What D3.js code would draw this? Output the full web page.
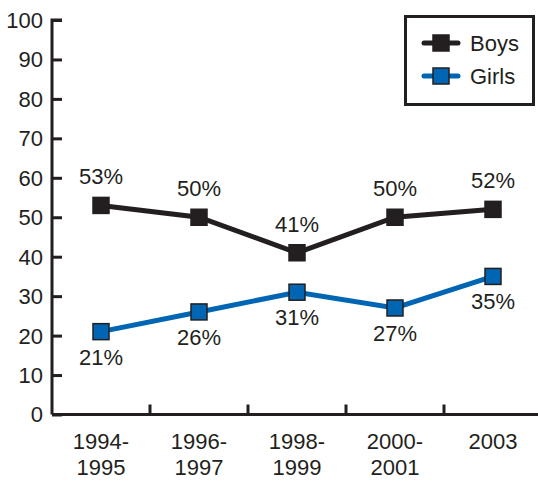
<!DOCTYPE html>
<html>
<head>
<meta charset="utf-8">
<script src="https://cdn.jsdelivr.net/npm/d3@7"></script>
<style>
  body { margin: 0; background: #fff; }
  text { font-family: "Liberation Sans Narrow", "Liberation Sans", Arial, sans-serif; fill: #231f20; }
</style>
</head>
<body>
<svg width="538" height="481"></svg>
<script>
var periods = ["1994-1995", "1996-1997", "1998-1999", "2000-2001", "2003"];
var boys = [53, 50, 41, 50, 52];
var girls = [21, 26, 31, 27, 35];
var yTicks = [0, 10, 20, 30, 40, 50, 60, 70, 80, 90, 100];

var ink = "#231f20", blue = "#0066b3";

var svg = d3.select("svg");

var xScale = d3.scaleBand().domain(periods).range([52, 542]),
    yScale = d3.scaleLinear().domain([0, 100]).range([414.5, 20]);

// y axis
var yAxis = svg.append("g")
   .attr("transform", "translate(52,0)")
   .call(d3.axisRight(yScale).tickValues(yTicks).tickSize(10).tickFormat(""));
yAxis.select(".domain").attr("stroke", ink).attr("stroke-width", 3)
     .attr("d", "M10," + yScale(100) + "H0V" + yScale(0));
yAxis.selectAll(".tick line").attr("stroke", ink).attr("stroke-width", 3);

svg.selectAll(".ylab")
   .data(yTicks)
   .enter().append("text")
   .attr("class", "ylab")
   .attr("x", 43)
   .attr("y", function(d) { return yScale(d); })
   .attr("dy", "0.36em")
   .attr("text-anchor", "end")
   .attr("font-size", "22px")
   .text(function(d) { return d; });

// x axis, ticks sit on the band boundaries
var xAxis = svg.append("g")
   .attr("transform", "translate(0," + yScale(0) + ")");
xAxis.append("line")
   .attr("x1", 52).attr("x2", 538)
   .attr("stroke", ink).attr("stroke-width", 3);
xAxis.selectAll(".bt")
   .data(periods.slice(1))
   .enter().append("line")
   .attr("x1", function(d) { return xScale(d); })
   .attr("x2", function(d) { return xScale(d); })
   .attr("y1", 0).attr("y2", -10)
   .attr("stroke", ink).attr("stroke-width", 3);

var xl = svg.selectAll(".xlab")
   .data(periods)
   .enter().append("text")
   .attr("class", "xlab")
   .attr("text-anchor", "middle")
   .attr("font-size", "22px");
xl.each(function(d) {
    var parts = d.split("-");
    var t = d3.select(this);
    var cx = xScale(d) + xScale.bandwidth() / 2;
    if (parts.length > 1) {
        t.append("tspan").attr("x", cx).attr("y", 449).text(parts[0] + "-");
        t.append("tspan").attr("x", cx).attr("y", 475).text(parts[1]);
    } else {
        t.append("tspan").attr("x", cx).attr("y", 449).text(d);
    }
});

function cx(d, i) { return xScale(periods[i]) + xScale.bandwidth() / 2; }

var line = d3.line()
   .x(function(d, i) { return cx(d, i); })
   .y(function(d) { return yScale(d); });

function drawSeries(values, color, labelDy) {
    svg.append("path")
       .datum(values)
       .attr("d", line)
       .attr("fill", "none")
       .attr("stroke", color)
       .attr("stroke-width", 5);
    svg.selectAll(null)
       .data(values)
       .enter().append("rect")
       .attr("x", function(d, i) { return cx(d, i) - 8; })
       .attr("y", function(d) { return yScale(d) - 8; })
       .attr("width", 16).attr("height", 16)
       .attr("fill", color)
       .attr("stroke", ink).attr("stroke-width", 1.5);
    svg.selectAll(null)
       .data(values)
       .enter().append("text")
       .attr("x", function(d, i) { return cx(d, i); })
       .attr("y", function(d) { return yScale(d) + labelDy; })
       .attr("text-anchor", "middle")
       .attr("font-size", "22px")
       .text(function(d) { return d + "%"; });
}

drawSeries(boys, ink, -21);
drawSeries(girls, blue, 33);

// legend
var legend = svg.append("g");
legend.append("rect")
   .attr("x", 405.5).attr("y", 16.5)
   .attr("width", 128).attr("height", 88)
   .attr("fill", "#fff").attr("stroke", ink).attr("stroke-width", 3);
var items = [["Boys", ink], ["Girls", blue]];
items.forEach(function(it, i) {
    var y = 43 + i * 33;
    legend.append("line")
       .attr("x1", 424).attr("x2", 458).attr("y1", y).attr("y2", y)
       .attr("stroke", it[1]).attr("stroke-width", 5).attr("stroke-linecap", "round");
    legend.append("rect")
       .attr("x", 433).attr("y", y - 8).attr("width", 16).attr("height", 16)
       .attr("fill", it[1]).attr("stroke", ink).attr("stroke-width", 1.5);
    legend.append("text")
       .attr("x", 470).attr("y", y)
       .attr("dy", "0.36em")
       .attr("font-size", "22px")
       .text(it[0]);
});
</script>
</body>
</html>
